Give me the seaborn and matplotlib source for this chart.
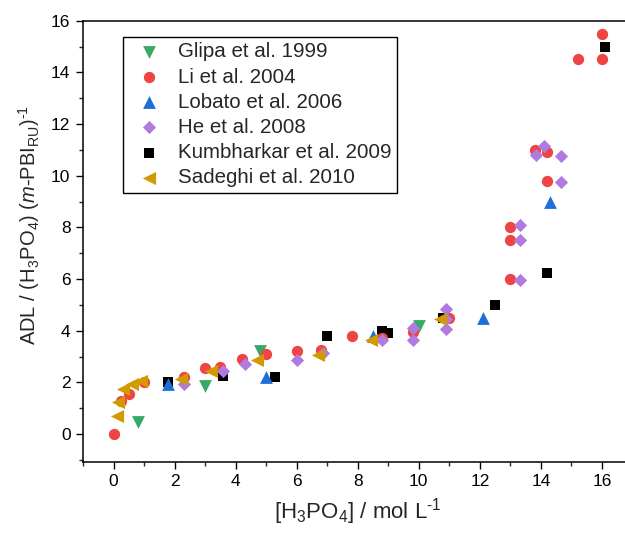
import numpy as np
import pandas as pd
import matplotlib
matplotlib.use("Agg")
import matplotlib.pyplot as plt
import seaborn as sns
from matplotlib.ticker import MultipleLocator

# ---------------- data ----------------
series = ["Glipa et al. 1999", "Li et al. 2004", "Lobato et al. 2006",
          "He et al. 2008", "Kumbharkar et al. 2009", "Sadeghi et al. 2010"]

glipa_x = [0.8, 3.0, 4.8, 10.0]
glipa_y = [0.45, 1.85, 3.2, 4.2]

li_x = [0.0, 0.25, 0.5, 1.0, 2.3, 3.0, 3.5, 4.2, 5.0, 6.0, 6.8, 7.8, 8.8, 9.8,
        11.0, 13.0, 13.0, 13.0, 14.2, 13.8, 14.2, 16.0, 15.2, 16.0]
li_y = [0.0, 1.3, 1.55, 2.0, 2.2, 2.55, 2.6, 2.9, 3.1, 3.2, 3.25, 3.8, 3.7, 3.95,
        4.5, 6.0, 7.5, 8.0, 9.8, 11.0, 10.9, 15.5, 14.5, 14.5]

lobato_x = [1.8, 5.0, 8.5, 12.1, 14.3]
lobato_y = [1.95, 2.2, 3.8, 4.5, 9.0]

he_x = [2.3, 3.6, 4.3, 6.0, 6.85, 8.8, 9.8, 9.8, 10.9, 10.9, 10.9,
        13.3, 13.3, 13.3, 14.65, 14.65, 13.85, 14.1]
he_y = [1.95, 2.45, 2.7, 2.85, 3.15, 3.65, 4.1, 3.65, 4.85, 4.45, 4.05,
        8.1, 7.5, 5.95, 9.75, 10.75, 10.8, 11.15]

kumb_x = [1.8, 3.6, 5.3, 7.0, 8.8, 9.0, 10.8, 12.5, 14.2, 16.1]
kumb_y = [2.0, 2.25, 2.2, 3.8, 4.0, 3.9, 4.5, 5.0, 6.25, 15.0]

sadeghi_x = [0.1, 0.15, 0.3, 0.6, 0.9, 2.2, 3.2, 4.7, 6.7, 8.45, 10.7]
sadeghi_y = [0.7, 1.25, 1.75, 1.95, 2.05, 2.15, 2.45, 2.85, 3.05, 3.65, 4.45]

x_ticks = [0, 2, 4, 6, 8, 10, 12, 14, 16]
y_ticks = [0, 2, 4, 6, 8, 10, 12, 14, 16]

# ---------------- style ----------------
sns.set_theme(style="ticks")
plt.rcParams["font.family"] = ["Liberation Sans", "DejaVu Sans"]
plt.rcParams["mathtext.fontset"] = "custom"
plt.rcParams["mathtext.rm"] = "Liberation Sans"
plt.rcParams["mathtext.it"] = "Liberation Sans:italic"
plt.rcParams["mathtext.default"] = "regular"

colors = ["#38AA68", "#EF4444", "#1F6FDB", "#B07AE0", "#000000", "#D19A00"]
markers = ["v", "o", "^", "D", "s", "<"]
sizes = [85, 66, 85, 45, 52, 90]
zorders = [3, 4, 5, 6, 2, 7]

xs = [glipa_x, li_x, lobato_x, he_x, kumb_x, sadeghi_x]
ys = [glipa_y, li_y, lobato_y, he_y, kumb_y, sadeghi_y]

fig = plt.figure(figsize=(6.25, 5.33), dpi=100)
W, H = 625, 533
ax = fig.add_axes([83 / W, 1 - 462 / H, 549.5 / W, 441.3 / H])

for name, x, y, c, m, s, z in zip(series, xs, ys, colors, markers, sizes, zorders):
    df = pd.DataFrame({"x": x, "y": y})
    sns.scatterplot(data=df, x="x", y="y", ax=ax, color=c, marker=m, s=s,
                    linewidth=0, label=name, zorder=z, legend=False)

ax.set_xlim(-1, 17)
ax.set_ylim(-1.08, 16)
ax.set_xticks(x_ticks)
ax.set_yticks(y_ticks)
ax.xaxis.set_minor_locator(MultipleLocator(1))
ax.yaxis.set_minor_locator(MultipleLocator(1))
ax.tick_params(which="major", direction="out", length=5, width=1, labelsize=12.5,
               colors="black", pad=4, top=False, right=False)
ax.tick_params(which="minor", direction="out", length=3, width=1, top=False, right=False)
for side in ["left", "bottom", "top"]:
    ax.spines[side].set_visible(True)
    ax.spines[side].set_linewidth(1.1)
    ax.spines[side].set_color("black")
ax.spines["right"].set_visible(False)

ax.set_xlabel("[H$_3$PO$_4$] / mol L$^{\u20101}$", fontsize=16, labelpad=5)
ax.set_ylabel("ADL / (H$_3$PO$_4$) ($\\mathit{m}$-PBI$_{RU}$)$^{\u20101}$", fontsize=14.5)
ax.yaxis.set_label_coords((42 - 83) / 549.5, (462 - 225) / 441.3)

handles = [h for h in ax.collections]
leg = ax.legend(handles=handles, labels=series, loc="upper left",
                bbox_to_anchor=((123 - 83) / 549.5, 1 - (37 - 20.7) / 441.3),
                borderaxespad=0, fontsize=14.8, frameon=True, fancybox=False,
                edgecolor="black", framealpha=1, borderpad=0.26, labelspacing=0.3,
                handlelength=2.0, handletextpad=0.41, scatterpoints=1)
leg.get_frame().set_linewidth(1.0)

fig.savefig("out.png", dpi=100)
